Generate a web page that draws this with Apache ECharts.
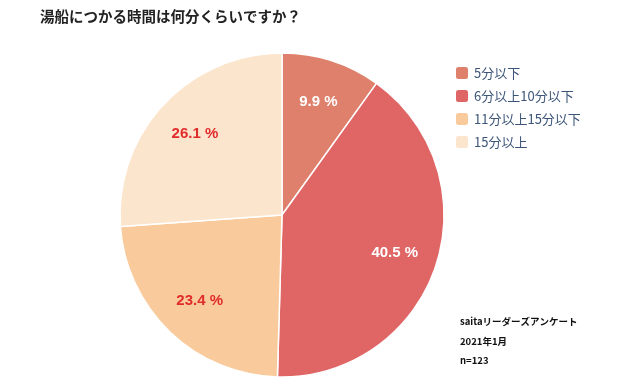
<!DOCTYPE html>
<html><head><meta charset="utf-8">
<script src="https://cdn.jsdelivr.net/npm/echarts@6/dist/echarts.min.js"></script>
<style>html,body{margin:0;padding:0;background:#fff}#c{width:621px;height:391px}</style>
</head><body><div id="c"></div>
<script>
const categories = ['5分以下','6分以上10分以下','11分以上15分以下','15分以上'];
const values = [9.9, 40.5, 23.4, 26.1];
const colors = ['#de806b','#e06666','#f9ca9c','#fce5cd'];
const labelColors = ['#ffffff','#ffffff','#e02b2b','#e02b2b'];
const notes = ['saitaリーダーズアンケート','2021年1月','n=123'];
const font = '"Noto Sans CJK JP", sans-serif';
const data = categories.map((n,i)=>({name:n,value:values[i],itemStyle:{color:colors[i]}}));
const labelData = categories.map((n,i)=>({name:n,value:values[i],label:{color:labelColors[i]}}));
const chart = echarts.init(document.getElementById('c'));
chart.setOption({
  animation:false,
  title:{text:'湯船につかる時間は何分くらいですか？',left:35,top:4,
    textStyle:{fontFamily:font,fontSize:14.5,fontWeight:'bold',color:'#222'}},
  legend:{orient:'vertical',left:449,top:60,itemWidth:14,itemHeight:14,itemGap:7,
    data:categories,icon:'roundRect',
    textStyle:{fontFamily:font,fontSize:13,color:'#3c5578'}},
  graphic:notes.map((t,i)=>({type:'text',left:460,top:317+i*19.5,
    style:{text:t,font:'bold 9.5px '+font,fill:'#111'}})),
  series:[
    {type:'pie',center:[282,215],radius:[0,162],startAngle:90,clockwise:true,
     data:data,label:{show:false},labelLine:{show:false},
     itemStyle:{borderColor:'#fff',borderWidth:1.5},emphasis:{disabled:true}},
    {type:'pie',center:[282,215],radius:[70,162],startAngle:90,clockwise:true,silent:true,
     data:labelData,itemStyle:{color:'rgba(0,0,0,0)'},labelLine:{show:false},
     label:{show:true,position:'inside',formatter:p=>p.value.toFixed(1)+' %',padding:[9,0,0,0],
       fontFamily:'"Liberation Sans", Arial, sans-serif',fontSize:15,fontWeight:'bold'},
     emphasis:{disabled:true}}
  ]
});
</script></body></html>
